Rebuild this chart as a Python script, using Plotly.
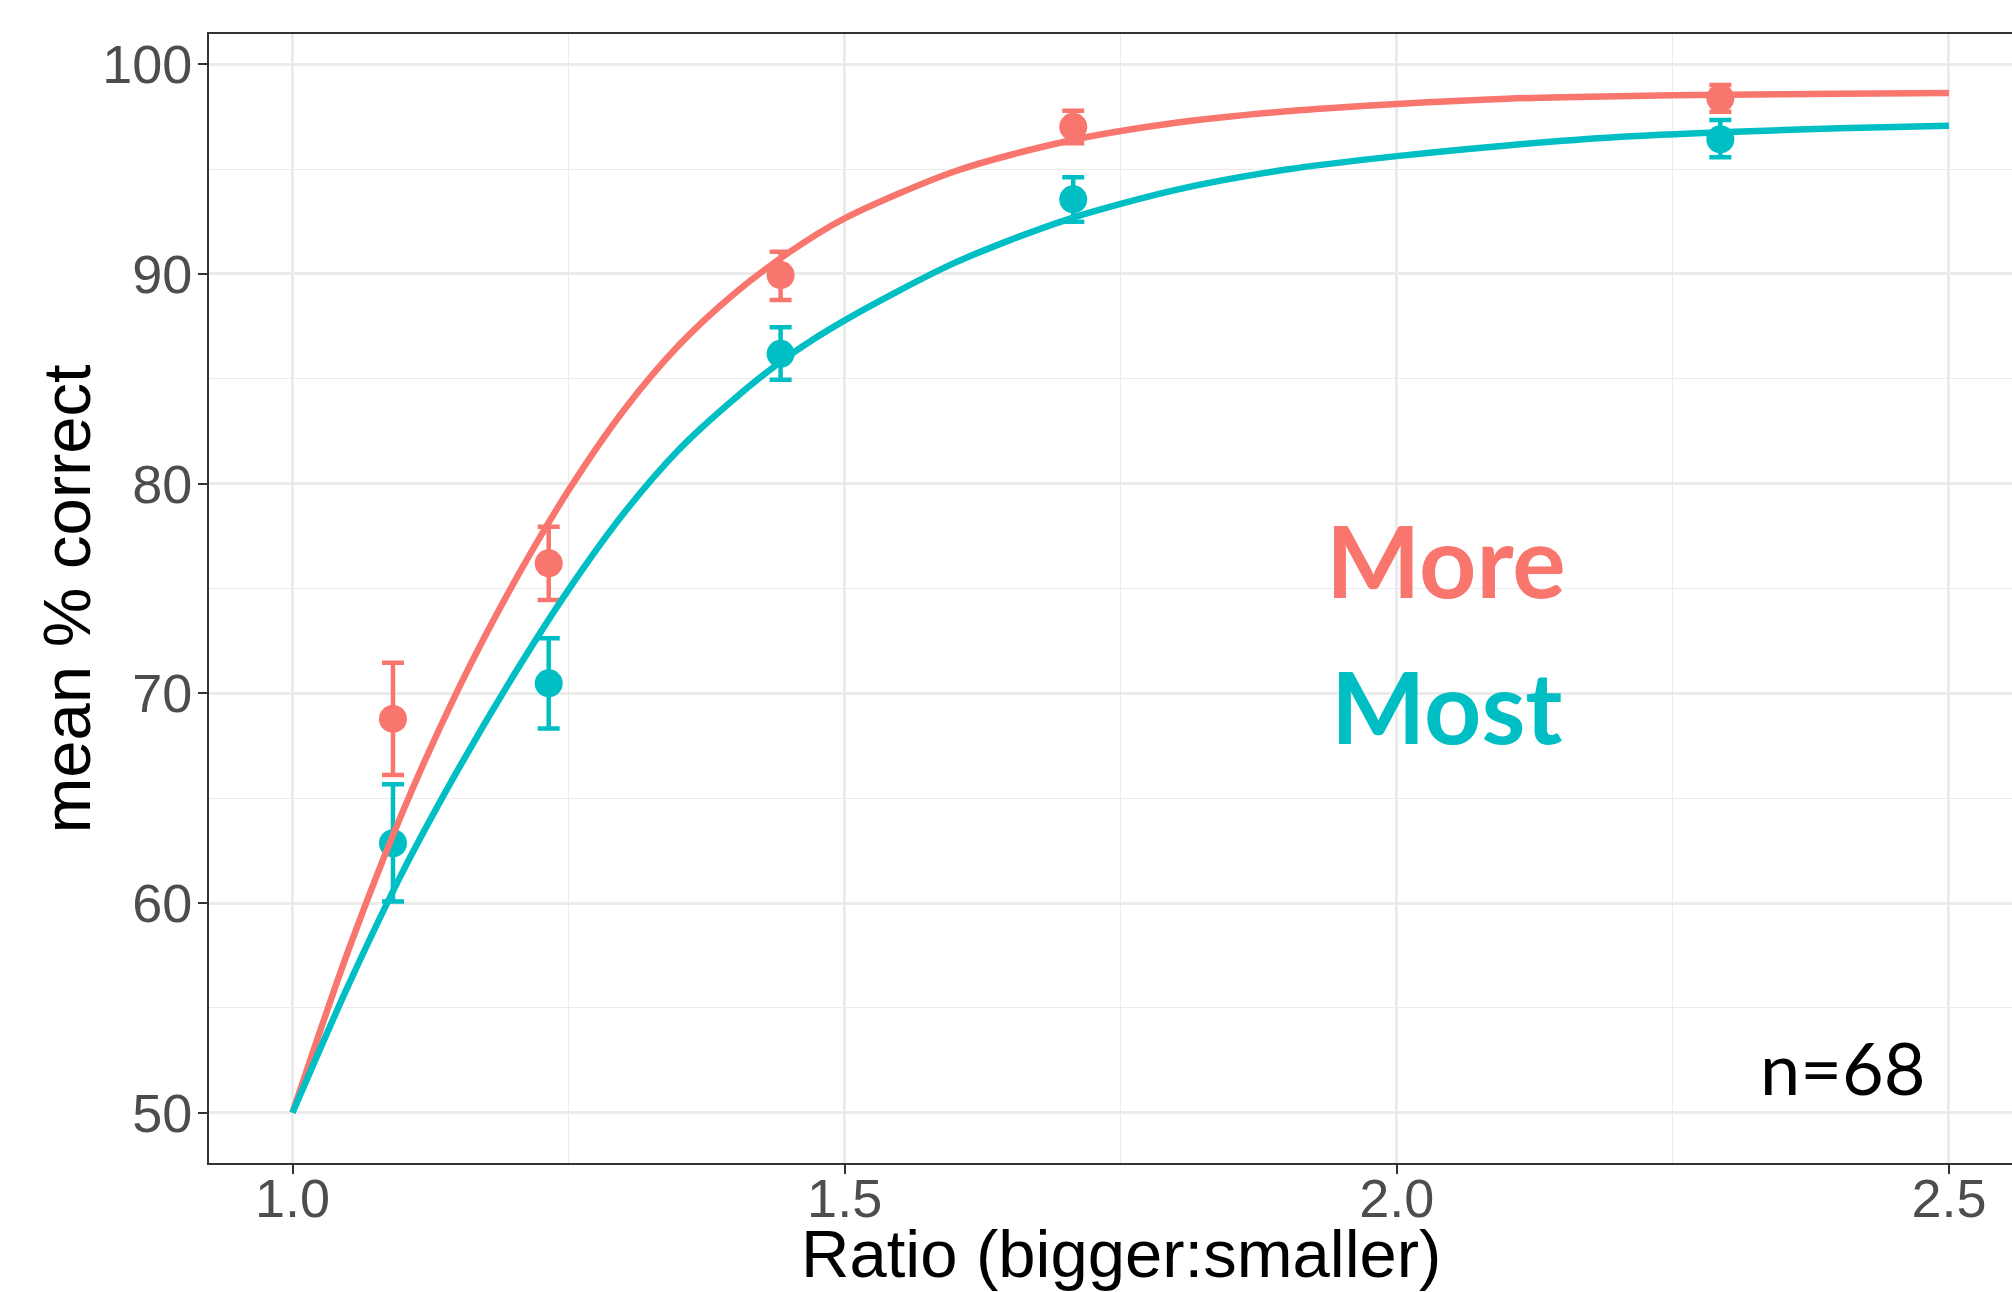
import plotly.graph_objects as go

# ---- data ----
ratio_pts = [1.091, 1.232, 1.442, 1.707, 2.293]

more_mean = [68.78, 76.20, 89.95, 97.02, 98.38]
more_lo = [66.11, 74.45, 88.76, 96.23, 97.74]
more_hi = [71.46, 77.95, 91.06, 97.79, 99.01]

most_mean = [62.85, 70.48, 86.19, 93.56, 96.42]
most_lo = [60.07, 68.32, 84.95, 92.49, 95.57]
most_hi = [65.67, 72.63, 87.46, 94.61, 97.34]

# fitted curves
fit_x = [1.00, 1.05, 1.10, 1.15, 1.20, 1.25, 1.30, 1.35, 1.40, 1.45, 1.50,
         1.60, 1.70, 1.80, 1.90, 2.00, 2.10, 2.20, 2.30, 2.40, 2.50]
more_fit_y = [50.0, 57.66, 64.38, 70.19, 75.23, 79.68, 83.50, 86.61, 89.06, 91.04, 92.65,
              94.90, 96.32, 97.21, 97.76, 98.11, 98.36, 98.48, 98.55, 98.60, 98.63]
most_fit_y = [50.0, 56.01, 61.51, 66.37, 70.84, 74.95, 78.59, 81.63, 84.04, 86.12, 87.79,
              90.54, 92.57, 94.01, 94.98, 95.62, 96.13, 96.53, 96.77, 96.95, 97.07]

x_ticks = [1.0, 1.5, 2.0, 2.5]
x_tick_labels = ["1.0", "1.5", "2.0", "2.5"]
y_ticks = [50, 60, 70, 80, 90, 100]
y_tick_labels = ["50", "60", "70", "80", "90", "100"]

RED = "#F8766D"
CYAN = "#00BFC4"

fig = go.Figure()

def add_points(mean, lo, hi, color):
    fig.add_trace(go.Scatter(
        x=ratio_pts, y=mean, mode="markers",
        marker=dict(color=color, size=28, line=dict(width=0)),
        error_y=dict(type="data", symmetric=False,
                     array=[h - m for h, m in zip(hi, mean)],
                     arrayminus=[m - l for m, l in zip(mean, lo)],
                     color=color, thickness=4.5, width=11),
        showlegend=False, hoverinfo="skip"))

add_points(more_mean, more_lo, more_hi, RED)
add_points(most_mean, most_lo, most_hi, CYAN)

fig.add_trace(go.Scatter(x=fit_x, y=more_fit_y, mode="lines",
                         line=dict(color=RED, width=6.5, shape="spline", smoothing=0.8),
                         showlegend=False, hoverinfo="skip"))
fig.add_trace(go.Scatter(x=fit_x, y=most_fit_y, mode="lines",
                         line=dict(color=CYAN, width=6.5, shape="spline", smoothing=0.8),
                         showlegend=False, hoverinfo="skip"))

W, H = 2012, 1292
ML, MR, MT, MB = 209, 0, 34, 129
px_per_x = 1104.3
px_per_y = 20.97
x0 = 1.0 - (292.5 - ML) / px_per_x
x1 = x0 + (W - ML - MR) / px_per_x
y1 = 100 + (64.3 - MT) / px_per_y
y0 = 50 - ((H - MB) - 1112.7) / px_per_y

axis_font = dict(family="Liberation Sans, Arial, sans-serif", size=54, color="#4D4D4D")

fig.update_xaxes(
    range=[x0, x1], tickmode="array", tickvals=x_ticks, ticktext=x_tick_labels,
    tickfont=axis_font, ticks="outside", ticklen=9, tickwidth=2, tickcolor="#333333",
    showline=True, linecolor="#333333", linewidth=1.6, mirror=True,
    showgrid=True, gridcolor="#EBEBEB", gridwidth=2.5,
    minor=dict(tickvals=[1.25, 1.75, 2.25], showgrid=True, gridcolor="#EBEBEB", gridwidth=1.3, ticks=""),
    zeroline=False, ticklabelstandoff=-22)
fig.update_yaxes(
    range=[y0, y1], tickmode="array", tickvals=y_ticks, ticktext=y_tick_labels,
    tickfont=axis_font, ticks="outside", ticklen=9, tickwidth=2, tickcolor="#333333",
    showline=True, linecolor="#333333", linewidth=1.6, mirror=False,
    showgrid=True, gridcolor="#EBEBEB", gridwidth=2.5,
    minor=dict(tickvals=[55, 65, 75, 85, 95], showgrid=True, gridcolor="#EBEBEB", gridwidth=1.3, ticks=""),
    zeroline=False, ticklabelstandoff=-5)

title_font = dict(family="Liberation Sans, Arial, sans-serif", size=67, color="black")
plot_h = H - MT - MB
plot_w = W - ML - MR

fig.add_annotation(text="Ratio (bigger:smaller)", x=1.75, xref="x",
                   y=-(1253 - (H - MB)) / plot_h, yref="paper",
                   xanchor="center", yanchor="middle", showarrow=False, font=title_font)
fig.add_annotation(text="mean % correct", x=(66 - ML) / plot_w, xref="paper",
                   y=0.5, yref="paper", textangle=-90,
                   xanchor="center", yanchor="middle", showarrow=False, font=title_font)

label_font = "Lato, Open Sans, sans-serif"
fig.add_annotation(text="<b>More</b>", x=2.0446, y=76.4, xref="x", yref="y",
                   showarrow=False, xanchor="center", yanchor="middle",
                   font=dict(family=label_font, size=100, color=RED))
fig.add_annotation(text="<b>Most</b>", x=2.0455, y=69.45, xref="x", yref="y",
                   showarrow=False, xanchor="center", yanchor="middle",
                   font=dict(family=label_font, size=100, color=CYAN))
fig.add_annotation(text="n=68", x=2.404, y=52.16, xref="x", yref="y",
                   showarrow=False, xanchor="center", yanchor="middle",
                   font=dict(family=label_font, size=72, color="black"))

fig.update_layout(
    width=W, height=H,
    margin=dict(l=ML, r=MR, t=MT, b=MB, pad=0),
    paper_bgcolor="white", plot_bgcolor="white",
    showlegend=False)

fig.write_html("out.html", config={"displayModeBar": False},
               post_script="document.body.style.margin='0px';")
